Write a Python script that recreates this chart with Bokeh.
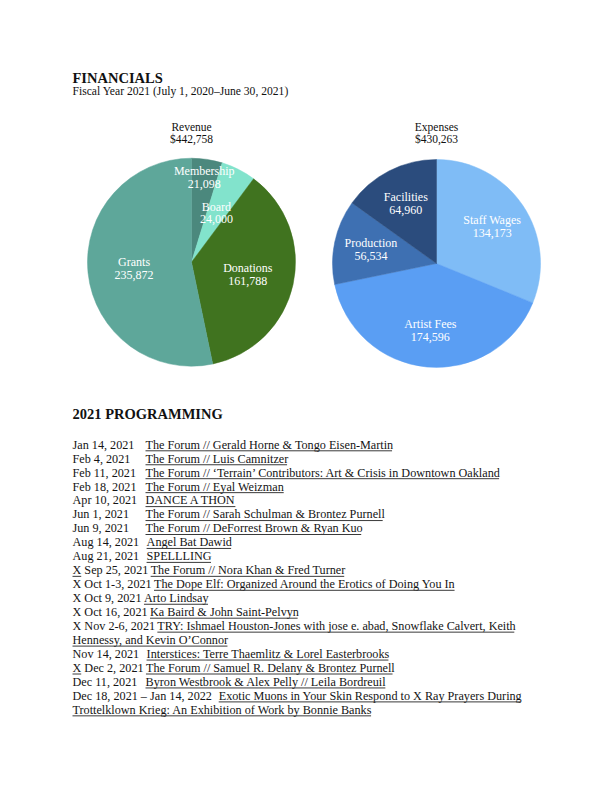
import math
from bokeh.plotting import figure
from bokeh.models import Range1d, ColumnDataSource
from bokeh.core.properties import value
from bokeh.embed import file_html
from bokeh.resources import INLINE

# ---------------- data ----------------
revenue_labels = ["Membership", "Board", "Donations", "Grants"]
revenue_values = [21098, 24000, 161788, 235872]
revenue_total = 442758

expense_labels = ["Staff Wages", "Artist Fees", "Production", "Facilities"]
expense_values = [134173, 174596, 56534, 64960]
expense_total = 430263

event_dates = [
    "Jan 14, 2021", "Feb 4, 2021", "Feb 11, 2021", "Feb 18, 2021", "Apr 10, 2021",
    "Jun 1, 2021", "Jun 9, 2021", "Aug 14, 2021", "Aug 21, 2021", "X Sep 25, 2021",
    "X Oct 1-3, 2021", "X Oct 9, 2021", "X Oct 16, 2021", "X Nov 2-6, 2021",
    "Nov 14, 2021", "X Dec 2, 2021", "Dec 11, 2021", "Dec 18, 2021 \u2013 Jan 14, 2022",
]
event_titles = [
    "The Forum // Gerald Horne & Tongo Eisen-Martin",
    "The Forum // Luis Camnitzer",
    "The Forum // \u2018Terrain\u2019 Contributors: Art & Crisis in Downtown Oakland",
    "The Forum // Eyal Weizman",
    "DANCE A THON",
    "The Forum // Sarah Schulman & Brontez Purnell",
    "The Forum // DeForrest Brown & Ryan Kuo",
    "Angel Bat Dawid",
    "SPELLLING",
    "The Forum // Nora Khan & Fred Turner",
    "The Dope Elf: Organized Around the Erotics of Doing You In",
    "Arto Lindsay",
    "Ka Baird & John Saint-Pelvyn",
    "TRY: Ishmael Houston-Jones with jose e. abad, Snowflake Calvert, Keith\nHennessy, and Kevin O\u2019Connor",
    "Interstices: Terre Thaemlitz & Lorel Easterbrooks",
    "The Forum // Samuel R. Delany & Brontez Purnell",
    "Byron Westbrook & Alex Pelly // Leila Bordreuil",
    "Exotic Muons in Your Skin Respond to X Ray Prayers During\nTrottelklown Krieg: An Exhibition of Work by Bonnie Banks",
]
x_marked_underlined = [9, 15]

# ---------------- styles ----------------
revenue_colors = ["#4b887d", "#82e3cc", "#40731f", "#5ea79a"]
expense_colors = ["#7fbcf6", "#5a9ef3", "#3e70b2", "#2b4c7d"]
revenue_label_frac = [0.82, 0.53, 0.555, 0.555]
expense_label_frac = [0.645, 0.645, 0.645, 0.645]

FONT = "Liberation Serif"
W, H = 612, 792
MID = 0.34  # em offset from baseline to em-box middle

# Times-style advance widths (per 1000 em) for underline lengths
_w = {" ": 250, "!": 333, "&": 778, "'": 333, "(": 333, ")": 333, ",": 250, "-": 333,
      ".": 250, "/": 278, ":": 278, ";": 278, "\u2018": 333, "\u2019": 333, "\u2013": 500,
      "A": 722, "B": 667, "C": 667, "D": 722, "E": 611, "F": 556, "G": 722, "H": 722,
      "I": 333, "J": 389, "K": 722, "L": 611, "M": 889, "N": 722, "O": 722, "P": 556,
      "Q": 722, "R": 667, "S": 556, "T": 611, "U": 722, "V": 722, "W": 944, "X": 722,
      "Y": 722, "Z": 611, "a": 444, "b": 500, "c": 444, "d": 500, "e": 444, "f": 333,
      "g": 500, "h": 500, "i": 278, "j": 278, "k": 500, "l": 278, "m": 778, "n": 500,
      "o": 500, "p": 500, "q": 500, "r": 333, "s": 389, "t": 278, "u": 500, "v": 500,
      "w": 722, "x": 500, "y": 500, "z": 444}


def text_width(s, size):
    return 0.99 * sum(_w.get(ch, 500) for ch in s) * size / 1000.0


def Y(sy):
    return H - sy


def YB(baseline, size):
    # data y of the em-box middle for a given screen baseline
    return H - (baseline - MID * size)


p = figure(width=W, height=H, x_range=Range1d(0, W), y_range=Range1d(0, H),
           x_axis_type=None, y_axis_type=None, toolbar_location=None,
           output_backend="svg", min_border=0)
p.outline_line_color = None
p.xgrid.visible = False
p.ygrid.visible = False
p.background_fill_color = "white"
p.border_fill_color = "white"

# ---------------- headings ----------------
p.text(x=[72], y=[YB(82.7, 14.5)], text=["FINANCIALS"], text_font=value(FONT),
       text_font_size="14.5px", text_font_style="bold", text_color="#111111",
       text_baseline="middle", text_align="left")
p.text(x=[72], y=[YB(95, 11.6)], text=["Fiscal Year 2021 (July 1, 2020\u2013June 30, 2021)"],
       text_font=value(FONT), text_font_size="11.6px", text_color="#111111",
       text_baseline="middle", text_align="left")
p.text(x=[72], y=[YB(418.3, 14.5)], text=["2021 PROGRAMMING"], text_font=value(FONT),
       text_font_size="14.5px", text_font_style="bold", text_color="#111111",
       text_baseline="middle", text_align="left")


# ---------------- pies ----------------
def draw_pie(cx, cy_screen, r, title, total, labels, values, colors, fracs):
    cy = Y(cy_screen)
    starts, ends, lx, ly1, ly2, names, nums = [], [], [], [], [], [], []
    cum = 0.0
    for lab, v, f in zip(labels, values, fracs):
        a0 = math.pi / 2 - 2 * math.pi * cum / total
        a1 = math.pi / 2 - 2 * math.pi * (cum + v) / total
        am = math.pi / 2 - 2 * math.pi * (cum + v / 2) / total
        starts.append(a0)
        ends.append(a1)
        x = cx + f * r * math.cos(am)
        y = cy + f * r * math.sin(am)
        lx.append(x)
        ly1.append(y + 6.4)
        ly2.append(y - 6.4)
        names.append(lab)
        nums.append(f"{v:,}")
        cum += v
    src = ColumnDataSource(dict(start=starts, end=ends, color=colors))
    p.wedge(x=cx, y=cy, radius=r, start_angle="start", end_angle="end",
            direction="clock", fill_color="color", line_color="color",
            line_width=0.5, source=src)
    p.text(x=lx + lx, y=ly1 + ly2, text=names + nums, text_font=value(FONT),
           text_font_size="12px", text_color="white", text_align="center",
           text_baseline="middle")
    p.text(x=[cx, cx], y=[YB(130.5, 11.5), YB(142.5, 11.5)], text=[title, f"${total:,}"],
           text_font=value(FONT), text_font_size="11.5px", text_color="#111111",
           text_align="center", text_baseline="middle")


draw_pie(191, 261.7, 104, "Revenue", revenue_total, revenue_labels, revenue_values,
         revenue_colors, revenue_label_frac)
draw_pie(436, 263, 104, "Expenses", expense_total, expense_labels, expense_values,
         expense_colors, expense_label_frac)

# ---------------- programming list ----------------
FS = 12.2
X0 = 72
TAB = 145
first_base = 448.3
step = 13.95

tx, ty, tt = [], [], []
ux0, ux1, uy = [], [], []
line = 0
for i, (d, t) in enumerate(zip(event_dates, event_titles)):
    base = first_base + line * step
    tx.append(X0); ty.append(YB(base, FS)); tt.append(d)
    if d.startswith("X"):
        title_x = X0 + text_width(d + " ", FS)
    else:
        title_x = max(TAB, X0 + text_width(d, FS) + 8)
    if i in x_marked_underlined:
        ux0.append(X0); ux1.append(X0 + text_width("X", FS)); uy.append(Y(base + 2))
    parts = t.split("\n")
    for k, part in enumerate(parts):
        b = first_base + line * step
        xx = title_x if k == 0 else X0
        tx.append(xx); ty.append(YB(b, FS)); tt.append(part)
        ux0.append(xx); ux1.append(xx + text_width(part, FS)); uy.append(Y(b + 2))
        line += 1

p.text(x=tx, y=ty, text=tt, text_font=value(FONT), text_font_size=f"{FS}px",
       text_color="#141414", text_align="left", text_baseline="middle")
p.segment(x0=ux0, y0=uy, x1=ux1, y1=uy, line_color="#3a3a3a", line_width=1)

open("out.html", "w").write(file_html(p, INLINE))
